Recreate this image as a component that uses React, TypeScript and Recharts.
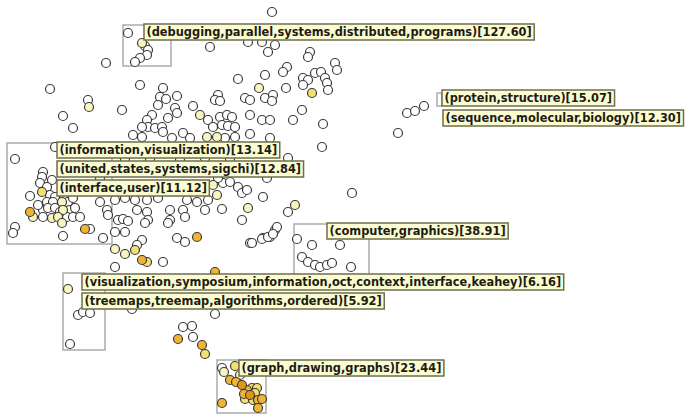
import React from 'react'
import { ScatterChart, Scatter, XAxis, YAxis, ReferenceArea } from 'recharts'

// point positions, in picture pixels (y grows downward)
const whitePoints: [number, number][] = [
  [272, 12], [128, 33], [145, 46], [148, 50], [147, 55], [140, 58], [135, 62], [106, 63], [210, 47],
  [248, 42], [262, 42], [275, 45], [268, 52], [310, 52], [308, 57], [335, 63], [337, 70],
  [287, 67], [283, 72], [265, 75], [238, 79], [303, 78], [315, 73], [321, 72], [308, 80], [303, 85],
  [325, 78], [327, 83], [328, 90], [286, 88], [50, 89], [140, 85], [163, 88], [160, 97], [166, 99],
  [177, 96], [158, 105], [218, 95], [215, 100], [220, 101], [245, 98], [250, 100], [265, 98],
  [273, 95], [272, 101], [88, 100], [122, 110], [175, 108], [177, 113], [193, 106], [152, 115],
  [147, 120], [148, 127], [142, 127], [155, 128], [162, 127], [163, 132], [168, 118], [208, 120],
  [220, 117], [227, 115], [232, 117], [222, 125], [228, 126], [235, 127], [213, 127], [250, 115],
  [262, 120], [270, 120], [302, 110], [293, 120], [323, 124], [63, 116], [73, 128], [133, 135],
  [142, 137], [172, 138], [183, 133], [190, 138], [225, 138], [235, 137], [250, 134], [270, 138],
  [407, 113], [415, 111], [424, 106], [398, 133], [322, 147], [55, 147], [15, 159], [288, 158],
  [223, 183], [230, 182], [238, 187], [242, 193], [247, 190], [263, 197], [218, 178], [267, 178],
  [352, 193], [43, 172], [42, 177], [52, 180], [40, 183], [47, 187], [30, 196], [50, 195], [55, 197],
  [47, 202], [53, 202], [68, 202], [73, 198], [100, 202], [43, 210], [48, 208], [55, 208], [70, 210],
  [75, 208], [43, 217], [67, 217], [73, 217], [80, 217], [107, 210], [108, 215], [15, 227], [13, 233],
  [90, 229], [63, 236], [103, 238], [115, 200], [125, 198], [135, 200], [147, 200], [158, 198],
  [187, 200], [197, 202], [208, 200], [137, 210], [147, 212], [170, 210], [183, 210], [185, 217],
  [170, 220], [168, 223], [205, 210], [222, 209], [118, 220], [123, 219], [128, 221], [148, 220],
  [145, 223], [242, 220], [177, 238], [185, 242], [263, 238], [270, 237], [275, 230], [277, 227],
  [250, 243], [288, 212], [115, 232], [125, 232], [142, 240], [252, 243], [262, 239], [268, 237],
  [273, 234], [137, 245], [163, 262], [115, 267], [297, 239], [312, 245], [302, 257], [308, 262],
  [315, 265], [320, 267], [327, 265], [332, 263], [340, 245], [351, 267], [78, 315], [83, 312],
  [90, 313], [70, 344], [132, 309], [215, 314], [183, 327], [192, 326], [193, 337], [222, 368],
  [60, 212], [38, 205], [125, 159], [150, 159], [180, 160], [205, 158], [230, 159], [100, 178],
]
const paleYellowPoints: [number, number][] = [
  [142, 43], [259, 88], [89, 107], [200, 115], [207, 137], [217, 137], [62, 202], [63, 210],
  [52, 218], [58, 217], [33, 217], [248, 208], [295, 205], [115, 249], [125, 254], [240, 375],
  [224, 372], [62, 223], [68, 289], [213, 185], [217, 195],
]
const yellowPoints: [number, number][] = [
  [312, 93], [42, 192], [135, 250], [147, 262], [205, 354], [235, 366], [252, 388], [257, 388],
  [255, 393], [245, 399], [253, 400],
]
const orangePoints: [number, number][] = [
  [30, 212], [85, 229], [197, 237], [142, 260], [215, 272], [178, 339], [202, 345], [230, 380],
  [236, 382], [247, 390], [244, 394], [258, 400], [262, 399], [222, 403], [258, 408],
]
const darkOrangePoints: [number, number][] = [[242, 385], [250, 395]]

const labelTexts = [
  '(debugging,parallel,systems,distributed,programs)[127.60]',
  '(protein,structure)[15.07]',
  '(sequence,molecular,biology)[12.30]',
  '(information,visualization)[13.14]',
  '(united,states,systems,sigchi)[12.84]',
  '(interface,user)[11.12]',
  '(computer,graphics)[38.91]',
  '(visualization,symposium,information,oct,context,interface,keahey)[6.16]',
  '(treemaps,treemap,algorithms,ordered)[5.92]',
  '(graph,drawing,graphs)[23.44]',
]
const labelX = [144, 442, 443, 57, 57, 57, 327, 82, 82, 239]
const labelY = [24, 90, 110, 142, 161, 180, 223, 274, 293, 360]

// cluster boxes: [x1, y1, x2, y2]
const clusterBoxes: [number, number, number, number][] = [
  [123, 25, 171, 66],
  [7, 143, 112, 244],
  [294, 224, 369, 281],
  [63, 273, 105, 350],
  [217, 360, 266, 413],
  [437, 93, 442, 106],
]

const toData = (pts: [number, number][]) => pts.map(([x, y]) => ({ x, y }))
const labelData = labelTexts.map((text, i) => ({ x: labelX[i], y: labelY[i], text }))

const FONT = 'bold 11.4px "DejaVu Sans", Verdana, sans-serif'
let ctx: CanvasRenderingContext2D | null = null
const measure = (t: string) => {
  if (!ctx) {
    ctx = document.createElement('canvas').getContext('2d')
    if (ctx) ctx.font = FONT
  }
  return ctx ? ctx.measureText(t).width : t.length * 7
}

const dot = (fill: string) => (props: any) => (
  <circle cx={props.cx} cy={props.cy} r={4.5} fill={fill} stroke="#3a3a3a" strokeWidth={1.2} />
)

const LabelBox = (props: any) => {
  const { cx, cy, payload } = props
  const w = measure(payload.text) + 5
  return (
    <g>
      <rect x={cx} y={cy} width={w} height={16} fill="#fcfcd2" stroke="#6e6e4c" strokeWidth={1.5} />
      <text x={cx + 2.5} y={cy + 12} style={{ font: FONT }} fill="#1c1c14">
        {payload.text}
      </text>
    </g>
  )
}

export default function App() {
  return (
    <div style={{ position: 'absolute', left: 0, top: 0, background: '#fff' }}>
      <ScatterChart width={688} height={414} margin={{ top: 0, right: 0, bottom: 0, left: 0 }}>
        <XAxis type="number" dataKey="x" domain={[0, 688]} hide />
        <YAxis type="number" dataKey="y" domain={[0, 414]} reversed hide />
        <Scatter data={toData(whitePoints)} shape={dot('#ffffff')} isAnimationActive={false} />
        <Scatter data={toData(paleYellowPoints)} shape={dot('#f9f5bf')} isAnimationActive={false} />
        <Scatter data={toData(yellowPoints)} shape={dot('#f3de72')} isAnimationActive={false} />
        <Scatter data={toData(orangePoints)} shape={dot('#f0b534')} isAnimationActive={false} />
        <Scatter data={toData(darkOrangePoints)} shape={dot('#e0951c')} isAnimationActive={false} />
        {clusterBoxes.map(([x1, y1, x2, y2], i) => (
          <ReferenceArea
            key={i}
            x1={x1}
            x2={x2}
            y1={y1}
            y2={y2}
            fill="none"
            stroke="#acacac"
            strokeWidth={1.5}
            ifOverflow="visible"
          />
        ))}
        <Scatter data={labelData} shape={<LabelBox />} isAnimationActive={false} />
      </ScatterChart>
    </div>
  )
}
